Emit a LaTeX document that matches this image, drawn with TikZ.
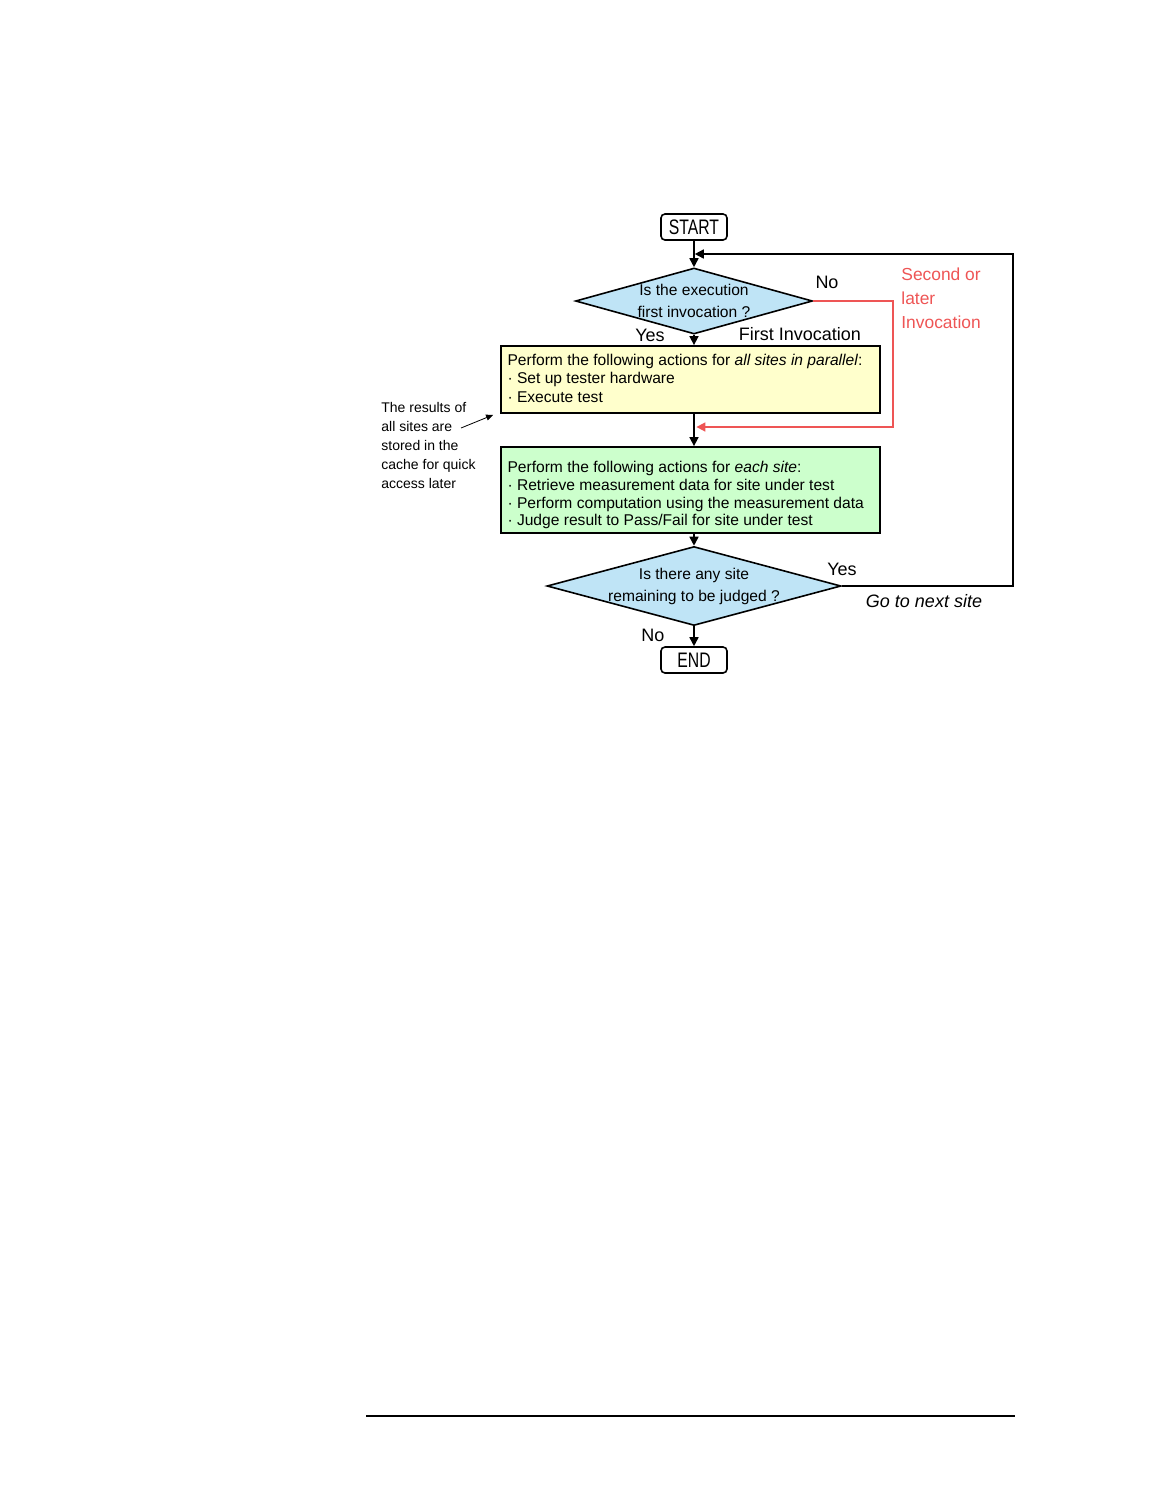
\documentclass[tikz,border=0pt]{standalone}
\usepackage{fontspec}
\setmainfont{Liberation Sans}
\newfontfamily\narrowfont[FakeStretch=0.75]{Liberation Sans}
\usetikzlibrary{shapes.geometric,arrows.meta}
\definecolor{askblue}{HTML}{BFE4F6}
\definecolor{boxyellow}{HTML}{FFFFCC}
\definecolor{boxgreen}{HTML}{CCFFCC}
\definecolor{redline}{HTML}{EE5555}
\hyphenpenalty=10000
\begin{document}
\begin{tikzpicture}[x=0.5pt,y=-0.5pt,
    flow/.style={line width=0.8pt,-{Triangle[length=4.5pt,width=4.5pt]}},
    thinflow/.style={line width=0.4pt,-{Triangle[length=3.5pt,width=3pt]}},
    term/.style={draw,line width=0.8pt,rounded corners=2pt,minimum width=33pt,
      minimum height=13pt,inner sep=0pt,font=\narrowfont\fontsize{10.5}{12}\selectfont},
    ask/.style={draw,line width=0.8pt,diamond,fill=askblue,inner sep=0pt},
    asktext/.style={align=center,inner sep=0pt,font=\fontsize{7.8}{11}\selectfont},
    act/.style={draw,line width=0.9pt,minimum width=189.5pt,inner sep=0pt},
    acttext/.style={anchor=west,align=left,inner sep=0pt,font=\fontsize{7.8}{9.1}\selectfont},
    lbl/.style={inner sep=0pt,font=\fontsize{9}{11}\selectfont}]
  \useasboundingbox (0,0) rectangle (1164,1506);
  \node[term] (A0) at (694,227) {START};
  \node[ask,minimum width=118.5pt,minimum height=33pt,
    label={[asktext]center:Is the execution\\first invocation ?}] (A1) at (694,301) {};
  \node[act,fill=boxyellow,minimum height=33.5pt] (A2) at (690.5,379.5) {};
  \node[acttext] (A2t) at ([xshift=3.5pt,yshift=0.6pt]A2.west)
    {Perform the following actions for \textit{all sites in parallel}:\\
     · Set up tester hardware\\
     · Execute test};
  \node[act,fill=boxgreen,minimum height=43pt] (A3) at (690.5,490) {};
  \node[acttext,font=\fontsize{7.8}{8.9}\selectfont] (A3t) at ([xshift=3.5pt,yshift=-2.6pt]A3.west)
    {Perform the following actions for \textit{each site}:\\
     · Retrieve measurement data for site under test\\
     · Perform computation using the measurement data\\
     · Judge result to Pass/Fail for site under test};
  \node[ask,minimum width=147pt,minimum height=39.5pt,
    label={[asktext]center:Is there any site\\remaining to be judged ?}] (A4) at (694,586) {};
  \node[term] (A5) at (694,660) {END};
  \coordinate (B0) at (1013,254);
  \coordinate (B1) at (1013,586);
  \coordinate (C0) at (893,427);
  \coordinate (D1) at (461,428);
  \draw[flow] (A0) -- (A1);
  \draw[flow] (A1) -- (A1.south |- A2.north);
  \draw[flow] (A1.south |- A2.south) -- (A1.south |- A3.north);
  \draw[flow] (A1.south |- A3.south) -- (A4);
  \draw[flow] (A4) -- (A5);
  \draw[flow] (A4.east) -- (B1) -- (B0) -- ([xshift=0.4pt]A0.south |- B0);
  \draw[flow,redline] (A1.east) -| (C0) -- ([xshift=1.2pt]A1.south |- C0);
  \node[lbl] (E0) at (827,282) {No};
  \node[lbl] (E1) at (650,335) {Yes};
  \node[lbl] (E2) at (800,334) {First Invocation};
  \node[lbl,text=redline,align=left,anchor=west,font=\fontsize{8.7}{12}\selectfont] (E3) at (901,298)
    {Second or\\later\\Invocation};
  \node[lbl] (E4) at (842,569) {Yes};
  \node[lbl,font=\fontsize{9}{11}\selectfont\itshape] (E5) at (924,601) {Go to next site};
  \node[lbl] (E6) at (653,635) {No};
  \node[inner sep=0pt,anchor=west,align=left,font=\fontsize{7}{9.4}\selectfont] (D0) at (381,445.5)
    {The results of\\all sites are\\stored in the\\cache for quick\\access later};
  \draw[thinflow] (D1) -- ([xshift=-3.5pt,yshift=-0.5pt]A2.south west);
  \coordinate (F0) at (366,1416);
  \coordinate (F1) at (1015,1416);
  \draw[line width=1pt] (F0) -- (F1);
\end{tikzpicture}
\end{document}
